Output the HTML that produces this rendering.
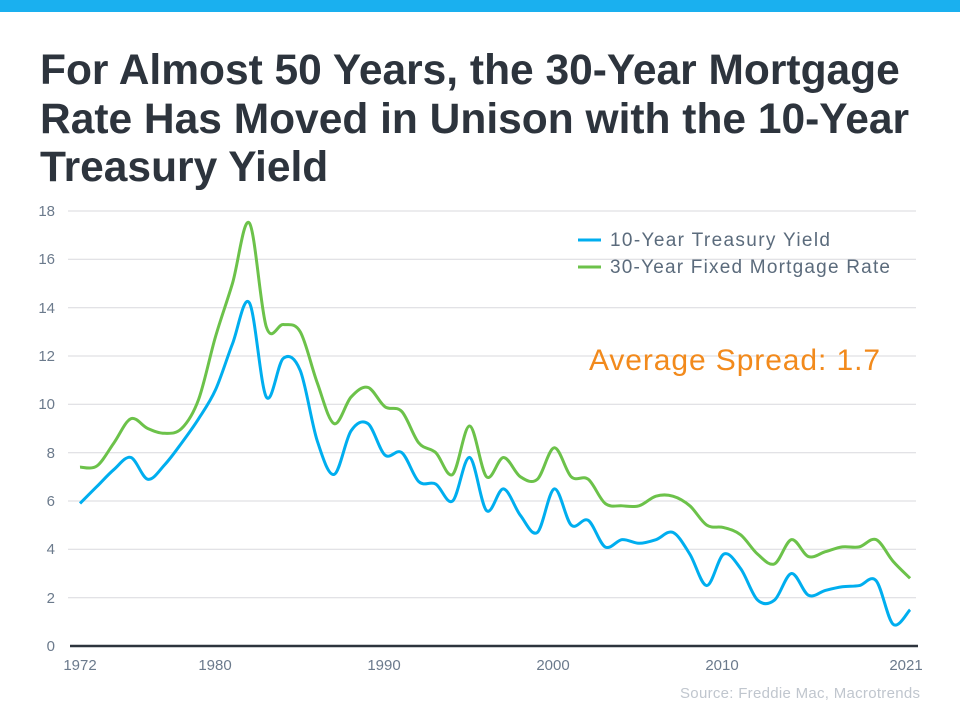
<!DOCTYPE html>
<html><head><meta charset="utf-8"><style>
body{margin:0;width:960px;height:720px;background:#fff;overflow:hidden;font-family:"Liberation Sans",Arial,sans-serif}
.bar{position:absolute;left:0;top:0;width:960px;height:12px;background:#1ab0ef}
h1{position:absolute;left:40px;top:47px;margin:0;font-size:42.5px;line-height:48.5px;font-weight:bold;color:#2d343d;width:920px;white-space:nowrap}
svg{position:absolute;left:0;top:0}
</style></head><body>
<div class="bar"></div>
<h1>For Almost 50 Years, the 30-Year Mortgage<br>Rate Has Moved in Unison with the 10-Year<br>Treasury Yield</h1>
<svg id="c" width="960" height="720" font-family="Liberation Sans, Arial, sans-serif">
<g stroke="#d9d9de" stroke-width="1">
<line x1="68" x2="916" y1="211" y2="211"/><line x1="68" x2="916" y1="259.3" y2="259.3"/><line x1="68" x2="916" y1="307.7" y2="307.7"/><line x1="68" x2="916" y1="356" y2="356"/><line x1="68" x2="916" y1="404.3" y2="404.3"/><line x1="68" x2="916" y1="452.7" y2="452.7"/><line x1="68" x2="916" y1="501" y2="501"/><line x1="68" x2="916" y1="549.3" y2="549.3"/><line x1="68" x2="916" y1="597.7" y2="597.7"/>
</g>
<line x1="70" x2="918" y1="646" y2="646" stroke="#2d343d" stroke-width="2.5"/>
<g fill="#6b7a8c" font-size="15" text-anchor="end">
<text x="55" y="216">18</text><text x="55" y="264">16</text><text x="55" y="313">14</text><text x="55" y="361">12</text><text x="55" y="409">10</text><text x="55" y="458">8</text><text x="55" y="506">6</text><text x="55" y="554">4</text><text x="55" y="603">2</text><text x="55" y="651">0</text>
</g>
<g fill="#6b7a8c" font-size="15" text-anchor="middle">
<text x="80" y="670">1972</text><text x="215" y="670">1980</text><text x="384" y="670">1990</text><text x="553" y="670">2000</text><text x="722" y="670">2010</text><text x="906" y="670">2021</text>
</g>
<text x="680" y="698" fill="#c0c6ce" font-size="15" textLength="240">Source: Freddie Mac, Macrotrends</text>
<line x1="578" x2="601" y1="240" y2="240" stroke="#00aeef" stroke-width="3"/>
<line x1="578" x2="601" y1="267" y2="267" stroke="#6cc24a" stroke-width="3"/>
<text x="610" y="246" fill="#5b6b7c" font-size="19" textLength="220">10-Year Treasury Yield</text>
<text x="610" y="273" fill="#5b6b7c" font-size="19" textLength="280">30-Year Fixed Mortgage Rate</text>
<text x="589" y="370" fill="#f28a1c" font-size="30" textLength="291">Average Spread: 1.7</text>
<path id="g" fill="none" stroke="#6cc24a" stroke-width="3"/>
<path id="b" fill="none" stroke="#00aeef" stroke-width="3"/>
</svg>
<script>
var T=[5.9,6.6,7.3,7.8,6.9,7.5,8.4,9.4,10.6,12.5,14.2,10.3,11.9,11.4,8.5,7.1,8.9,9.2,7.9,8.0,6.8,6.7,6.0,7.8,5.6,6.5,5.4,4.7,6.5,5.0,5.2,4.1,4.4,4.25,4.4,4.7,3.8,2.5,3.8,3.2,1.9,1.9,3.0,2.1,2.3,2.45,2.5,2.7,0.9,1.5];
var M=[7.4,7.45,8.4,9.4,9.0,8.8,9.0,10.2,12.8,15.0,17.5,13.2,13.3,13.0,10.9,9.2,10.3,10.7,9.9,9.7,8.4,8.0,7.1,9.1,7.0,7.8,7.0,6.9,8.2,7.0,6.9,5.9,5.8,5.8,6.2,6.2,5.8,5.0,4.9,4.6,3.8,3.4,4.4,3.7,3.9,4.1,4.1,4.4,3.5,2.8];
function path(a){var p=a.map(function(v,i){return [80+i*16.94,646-v*24.17]});
var d="M"+p[0][0]+","+p[0][1];
for(var i=0;i<p.length-1;i++){var p0=p[i-1]||p[i],p1=p[i],p2=p[i+1],p3=p[i+2]||p2;
var c1=[p1[0]+(p2[0]-p0[0])/6,p1[1]+(p2[1]-p0[1])/6],c2=[p2[0]-(p3[0]-p1[0])/6,p2[1]-(p3[1]-p1[1])/6];
d+="C"+c1+" "+c2+" "+p2;}return d;}
document.getElementById("g").setAttribute("d",path(M));
document.getElementById("b").setAttribute("d",path(T));
</script>
</body></html>
